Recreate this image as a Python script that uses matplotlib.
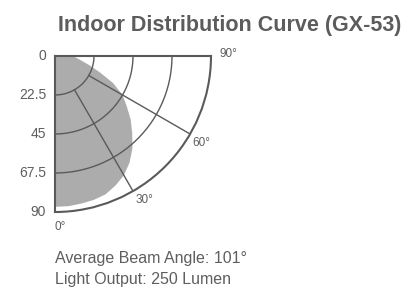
import matplotlib
matplotlib.use('Agg')
import matplotlib.pyplot as plt
import numpy as np

# distribution curve (angle in degrees, value 0..90 scale)
angles = [0, 5, 10, 15, 20, 25, 30, 35, 40, 45, 50, 55, 60, 65, 70, 75, 80, 85, 90]
values = [87, 87, 86.5, 86, 85, 82.5, 79.5, 75, 69.5, 63, 57, 50.5, 45, 37, 27.5, 20.5, 15.5, 12.5, 10]

ring_values = [22.5, 45, 67.5]
ring_labels = ['0', '22.5', '45', '67.5', '90']
ring_label_pos = [0, 22.5, 45, 67.5, 90]
spoke_angles = [30, 60]
angle_labels = ['0°', '30°', '60°', '90°']
angle_label_pos = [0, 30, 60, 90]

title = 'Indoor Distribution Curve (GX-53)'
notes = ['Average Beam Angle: 101°', 'Light Output: 250 Lumen']

line_col = '#5a5a5a'
text_col = '#5e5e5e'
sans = ['Liberation Sans', 'DejaVu Sans']

fig = plt.figure(figsize=(4.1, 2.89), dpi=100)
ax = fig.add_axes([55 / 410, 1 - 212 / 289, 156 / 410, 156 / 289], projection='polar')
ax.set_theta_zero_location('S')
ax.set_theta_direction(1)
ax.set_thetamin(0)
ax.set_thetamax(90)
ax.set_ylim(0, 90)
ax.grid(False)
ax.set_xticks([])
ax.set_yticks([])

# gray beam shape
th = np.radians(angles + [90, 0])
rr = values + [0, 0]
ax.fill(th, rr, color='#acacac', lw=0, zorder=1)

# rings and spokes
arc = np.radians(np.linspace(0, 90, 200))
for r in ring_values:
    ax.plot(arc, np.full_like(arc, r), color=line_col, lw=1.0, zorder=2)
for a in spoke_angles:
    ax.plot([np.radians(a)] * 2, [22.5, 90], color=line_col, lw=1.0, zorder=2)

for name, sp in ax.spines.items():
    sp.set_color(line_col)
    sp.set_linewidth(1.5)

# radial labels on the left edge
for lab, r in zip(ring_labels, ring_label_pos):
    ax.annotate(lab, xy=(0, r), xytext=(-9, 0), textcoords='offset pixels',
                ha='right', va='center', fontsize=10, color=text_col,
                family=sans, annotation_clip=False)

# angle labels around the arc
offsets = {0: (5, -15, 'center'), 30: (11, -9, 'center'),
           60: (11, -9, 'center'), 90: (9, 2, 'left')}
for lab, a in zip(angle_labels, angle_label_pos):
    dx, dy, ha = offsets[a]
    ax.annotate(lab, xy=(np.radians(a), 90), xytext=(dx, dy), textcoords='offset pixels',
                ha=ha, va='center', fontsize=8.5, color=text_col,
                family=sans, annotation_clip=False)

fig.text(230 / 410, 1 - 31 / 289, title, ha='center', va='baseline',
         fontsize=15.5, fontweight='bold', color='#5c5c5c', family=sans)

fig.text(55 / 410, 1 - 263 / 289, notes[0], ha='left', va='baseline',
         fontsize=11.5, color=text_col, family=sans)
fig.text(55 / 410, 1 - 284 / 289, notes[1], ha='left', va='baseline',
         fontsize=11.5, color=text_col, family=sans)

fig.savefig('out.png', dpi=100)
